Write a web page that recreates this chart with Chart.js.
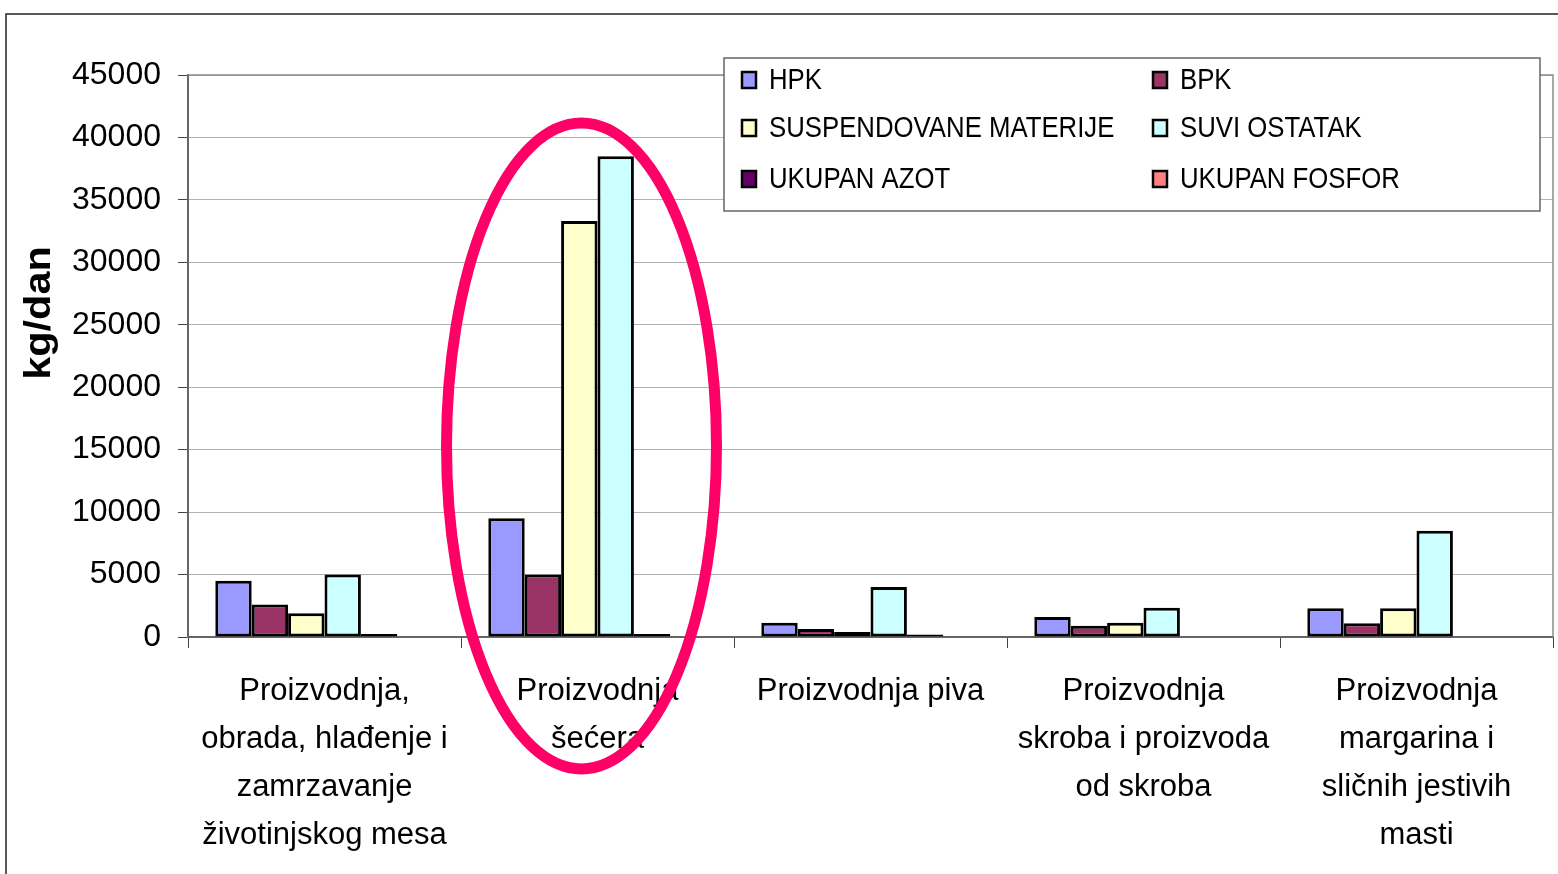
<!DOCTYPE html>
<html>
<head>
<meta charset="utf-8">
<script src="https://cdn.jsdelivr.net/npm/chart.js@4"></script>
<style>
  html, body { margin: 0; padding: 0; background: #fff; }
  #wrap { width: 1558px; height: 874px; position: relative; }
</style>
</head>
<body>
<div id="wrap"><canvas id="c"></canvas></div>
<script>
// --- data (kg/dan) ---
const categories = [
  ['Proizvodnja,', 'obrada, hlađenje i', 'zamrzavanje', 'životinjskog mesa'],
  ['Proizvodnja', 'šećera'],
  ['Proizvodnja piva'],
  ['Proizvodnja', 'skroba i proizvoda', 'od skroba'],
  ['Proizvodnja', 'margarina i', 'sličnih jestivih', 'masti'],
];
const seriesNames = ['HPK', 'BPK', 'SUSPENDOVANE MATERIJE', 'SUVI OSTATAK', 'UKUPAN AZOT', 'UKUPAN FOSFOR'];
const hpk = [4500, 9500, 1150, 1600, 2300];
const bpk = [2600, 5000, 650, 900, 1100];
const suspendovane = [1900, 33300, 400, 1150, 2300];
const suviOstatak = [5000, 38500, 4000, 2350, 8500];
const ukupanAzot = [250, 250, 200, 0, 0];
const ukupanFosfor = [0, 0, 0, 0, 0];
const yTicks = [0, 5000, 10000, 15000, 20000, 25000, 30000, 35000, 40000, 45000];

const colors = ['#9999ff', '#993366', '#ffffcc', '#ccffff', '#660066', '#ff8080'];
const FONT = '"Liberation Sans", Arial, sans-serif';

const values = [hpk, bpk, suspendovane, suviOstatak, ukupanAzot, ukupanFosfor];

// legend, frame, y title and the hand-drawn ellipse
const decor = {
  id: 'decor',
  afterDraw(chart) {
    const ctx = chart.ctx;
    const a = chart.chartArea;
    ctx.save();

    // plot border top/right
    ctx.strokeStyle = '#8c8c8c';
    ctx.lineWidth = 1.5;
    ctx.beginPath();
    ctx.moveTo(a.left, a.top);
    ctx.lineTo(a.right, a.top);
    ctx.lineTo(a.right, a.bottom);
    ctx.stroke();

    // outer frame
    ctx.strokeStyle = '#222';
    ctx.lineWidth = 1.5;
    ctx.strokeRect(6, 14, 1600, 900);

    // y title
    ctx.save();
    ctx.translate(40, 313);
    ctx.rotate(-Math.PI / 2);
    ctx.scale(1.12, 1);
    ctx.fillStyle = '#000';
    ctx.font = 'bold 37px ' + FONT;
    ctx.textAlign = 'center';
    ctx.textBaseline = 'middle';
    ctx.fillText('kg/dan', 0, 0);
    ctx.restore();

    // legend box
    const lx = 724, ly = 58, lw = 816, lh = 153;
    ctx.fillStyle = '#fff';
    ctx.fillRect(lx, ly, lw, lh);
    ctx.strokeStyle = '#666';
    ctx.lineWidth = 1.5;
    ctx.strokeRect(lx, ly, lw, lh);
    const colX = [742, 1153];
    const rowY = [80, 128, 179];
    chart.data.datasets.forEach((ds, i) => {
      const x = colX[i % 2];
      const y = rowY[Math.floor(i / 2)];
      ctx.fillStyle = ds.backgroundColor;
      ctx.fillRect(x, y - 8, 14, 16);
      ctx.strokeStyle = '#000';
      ctx.lineWidth = 2.5;
      ctx.strokeRect(x, y - 8, 14, 16);
      ctx.save();
      ctx.translate(x + 27, y + 1);
      ctx.scale(0.92, 1.05);
      ctx.fillStyle = '#000';
      ctx.font = '28px ' + FONT;
      ctx.textAlign = 'left';
      ctx.textBaseline = 'middle';
      ctx.fillText(ds.label, 0, 0);
      ctx.restore();
    });

    // ellipse round the sugar group
    const cx = chart.scales.x.getPixelForValue(1) - 16;
    ctx.strokeStyle = '#ff0066';
    ctx.lineWidth = 11;
    ctx.beginPath();
    ctx.ellipse(cx, 446, 135, 323, 0, 0, Math.PI * 2);
    ctx.stroke();

    ctx.restore();
  }
};

new Chart(document.getElementById('c'), {
  type: 'bar',
  data: {
    labels: categories,
    datasets: seriesNames.map((name, i) => ({
      label: name,
      data: values[i],
      backgroundColor: colors[i],
      borderColor: '#000',
      borderWidth: 3,
      borderSkipped: false,
      categoryPercentage: 0.8,
      barPercentage: 1,
    })),
  },
  options: {
    responsive: true,
    maintainAspectRatio: false,
    animation: false,
    layout: { padding: { top: 75, right: 5, left: 0, bottom: 0 } },
    plugins: { legend: { display: false }, tooltip: { enabled: false } },
    scales: {
      x: {
        afterFit: s => { s.height = 237; },
        grid: { drawOnChartArea: false, drawTicks: true, tickLength: 11, color: '#444', offset: true },
        border: { color: '#666', width: 2 },
        ticks: {
          color: '#000',
          font: { family: FONT, size: 31, lineHeight: 1.54 },
          padding: 20,
          maxRotation: 0,
          autoSkip: false,
        },
      },
      y: {
        min: 0,
        max: 45000,
        afterFit: s => { s.width = 188; },
        afterBuildTicks: s => { s.ticks = yTicks.map(v => ({ value: v })); },
        grid: { color: '#b0b0b0', lineWidth: 1, tickLength: 10, tickColor: '#444' },
        border: { color: '#666', width: 2 },
        ticks: {
          color: '#000',
          font: { family: FONT, size: 32 },
          padding: 17,
          callback: v => String(v),
        },
      },
    },
  },
  plugins: [decor],
});
</script>
</body>
</html>
